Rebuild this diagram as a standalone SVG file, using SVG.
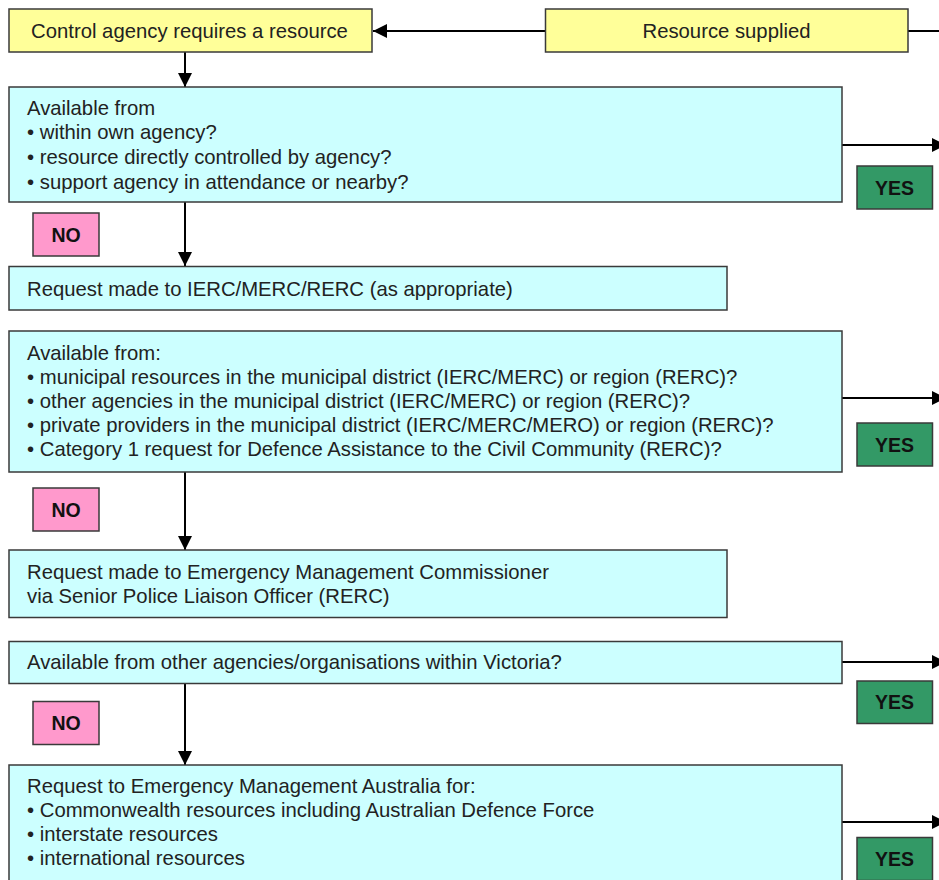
<svg xmlns="http://www.w3.org/2000/svg" width="939" height="880" viewBox="0 0 939 880">
<defs>
<marker id="ah" viewBox="0 0 10 10" refX="10" refY="5" markerWidth="14" markerHeight="14" markerUnits="userSpaceOnUse" orient="auto">
<path d="M0,0 L10,5 L0,10 Z" fill="#000"/>
</marker>
<style>
.box{stroke:#3a3a3a;stroke-width:1.5}
.y{fill:#FFFF99}
.c{fill:#CCFFFF}
.yes{fill:#339966}
.no{fill:#FF99CC}
text{font-family:"Liberation Sans",Arial,sans-serif;font-size:20.3px;fill:#222}
.ctr{text-anchor:middle}
.lbl{font-weight:bold;font-size:19.5px;fill:#111;text-anchor:middle}
.con{stroke:#000;stroke-width:2;fill:none}
</style>
</defs>
<rect width="939" height="880" fill="#fff"/>
<g id="connectors">
<line class="con" x1="545" y1="31" x2="373" y2="31" marker-end="url(#ah)"/>
<line class="con" x1="908" y1="31" x2="939" y2="31"/>
<line class="con" x1="185" y1="52" x2="185" y2="87" marker-end="url(#ah)"/>
<line class="con" x1="185" y1="202" x2="185" y2="266" marker-end="url(#ah)"/>
<line class="con" x1="185" y1="472" x2="185" y2="550" marker-end="url(#ah)"/>
<line class="con" x1="185" y1="684" x2="185" y2="765" marker-end="url(#ah)"/>
<line class="con" x1="842" y1="145" x2="946" y2="145" marker-end="url(#ah)"/>
<line class="con" x1="842" y1="398" x2="946" y2="398" marker-end="url(#ah)"/>
<line class="con" x1="842" y1="662" x2="946" y2="662" marker-end="url(#ah)"/>
<line class="con" x1="842" y1="822" x2="946" y2="822" marker-end="url(#ah)"/>
</g>
<g id="n_control">
<rect class="box y" x="9" y="9" width="363" height="43"/>
<text class="ctr" x="189.5" y="38">Control agency requires a resource</text>
</g>
<g id="n_supplied">
<rect class="box y" x="545.5" y="9" width="362.5" height="43"/>
<text class="ctr" x="726.5" y="38">Resource supplied</text>
</g>
<g id="n_avail1">
<rect class="box c" x="9" y="87" width="833" height="115"/>
<text x="27" y="115">Available from</text>
<text x="27" y="139">• within own agency?</text>
<text x="27" y="164">• resource directly controlled by agency?</text>
<text x="27" y="189">• support agency in attendance or nearby?</text>
</g>
<g id="yes1">
<rect class="box yes" x="857" y="166" width="75.5" height="43"/>
<text class="lbl" x="894.5" y="194.5">YES</text>
</g>
<g id="no1">
<rect class="box no" x="33" y="213" width="66" height="43"/>
<text class="lbl" x="66" y="241.5">NO</text>
</g>
<g id="n_req1">
<rect class="box c" x="9" y="266.5" width="718" height="43.5"/>
<text x="27" y="296">Request made to IERC/MERC/RERC (as appropriate)</text>
</g>
<g id="n_avail2">
<rect class="box c" x="9" y="331" width="833" height="141"/>
<text x="27" y="359.5">Available from:</text>
<text x="27" y="383.5">• municipal resources in the municipal district (IERC/MERC) or region (RERC)?</text>
<text x="27" y="407.5">• other agencies in the municipal district (IERC/MERC) or region (RERC)?</text>
<text x="27" y="431.5">• private providers in the municipal district (IERC/MERC/MERO) or region (RERC)?</text>
<text x="27" y="455.5">• Category 1 request for Defence Assistance to the Civil Community (RERC)?</text>
</g>
<g id="yes2">
<rect class="box yes" x="857" y="423" width="75.5" height="43"/>
<text class="lbl" x="894.5" y="451.5">YES</text>
</g>
<g id="no2">
<rect class="box no" x="33" y="488" width="66" height="43"/>
<text class="lbl" x="66" y="516.5">NO</text>
</g>
<g id="n_req2">
<rect class="box c" x="9" y="550" width="718" height="67.5"/>
<text x="27" y="578.5">Request made to Emergency Management Commissioner</text>
<text x="27" y="602.5">via Senior Police Liaison Officer (RERC)</text>
</g>
<g id="n_avail3">
<rect class="box c" x="9" y="641.5" width="833" height="42"/>
<text x="27" y="668.5">Available from other agencies/organisations within Victoria?</text>
</g>
<g id="yes3">
<rect class="box yes" x="857" y="681" width="75.5" height="42.5"/>
<text class="lbl" x="894.5" y="709">YES</text>
</g>
<g id="no3">
<rect class="box no" x="33" y="701.5" width="66" height="43"/>
<text class="lbl" x="66" y="730">NO</text>
</g>
<g id="n_ema">
<rect class="box c" x="9" y="765" width="833" height="125"/>
<text x="27" y="793">Request to Emergency Management Australia for:</text>
<text x="27" y="817">• Commonwealth resources including Australian Defence Force</text>
<text x="27" y="841">• interstate resources</text>
<text x="27" y="865">• international resources</text>
</g>
<g id="yes4">
<rect class="box yes" x="857" y="837.5" width="75.5" height="43"/>
<text class="lbl" x="894.5" y="866">YES</text>
</g>
</svg>
